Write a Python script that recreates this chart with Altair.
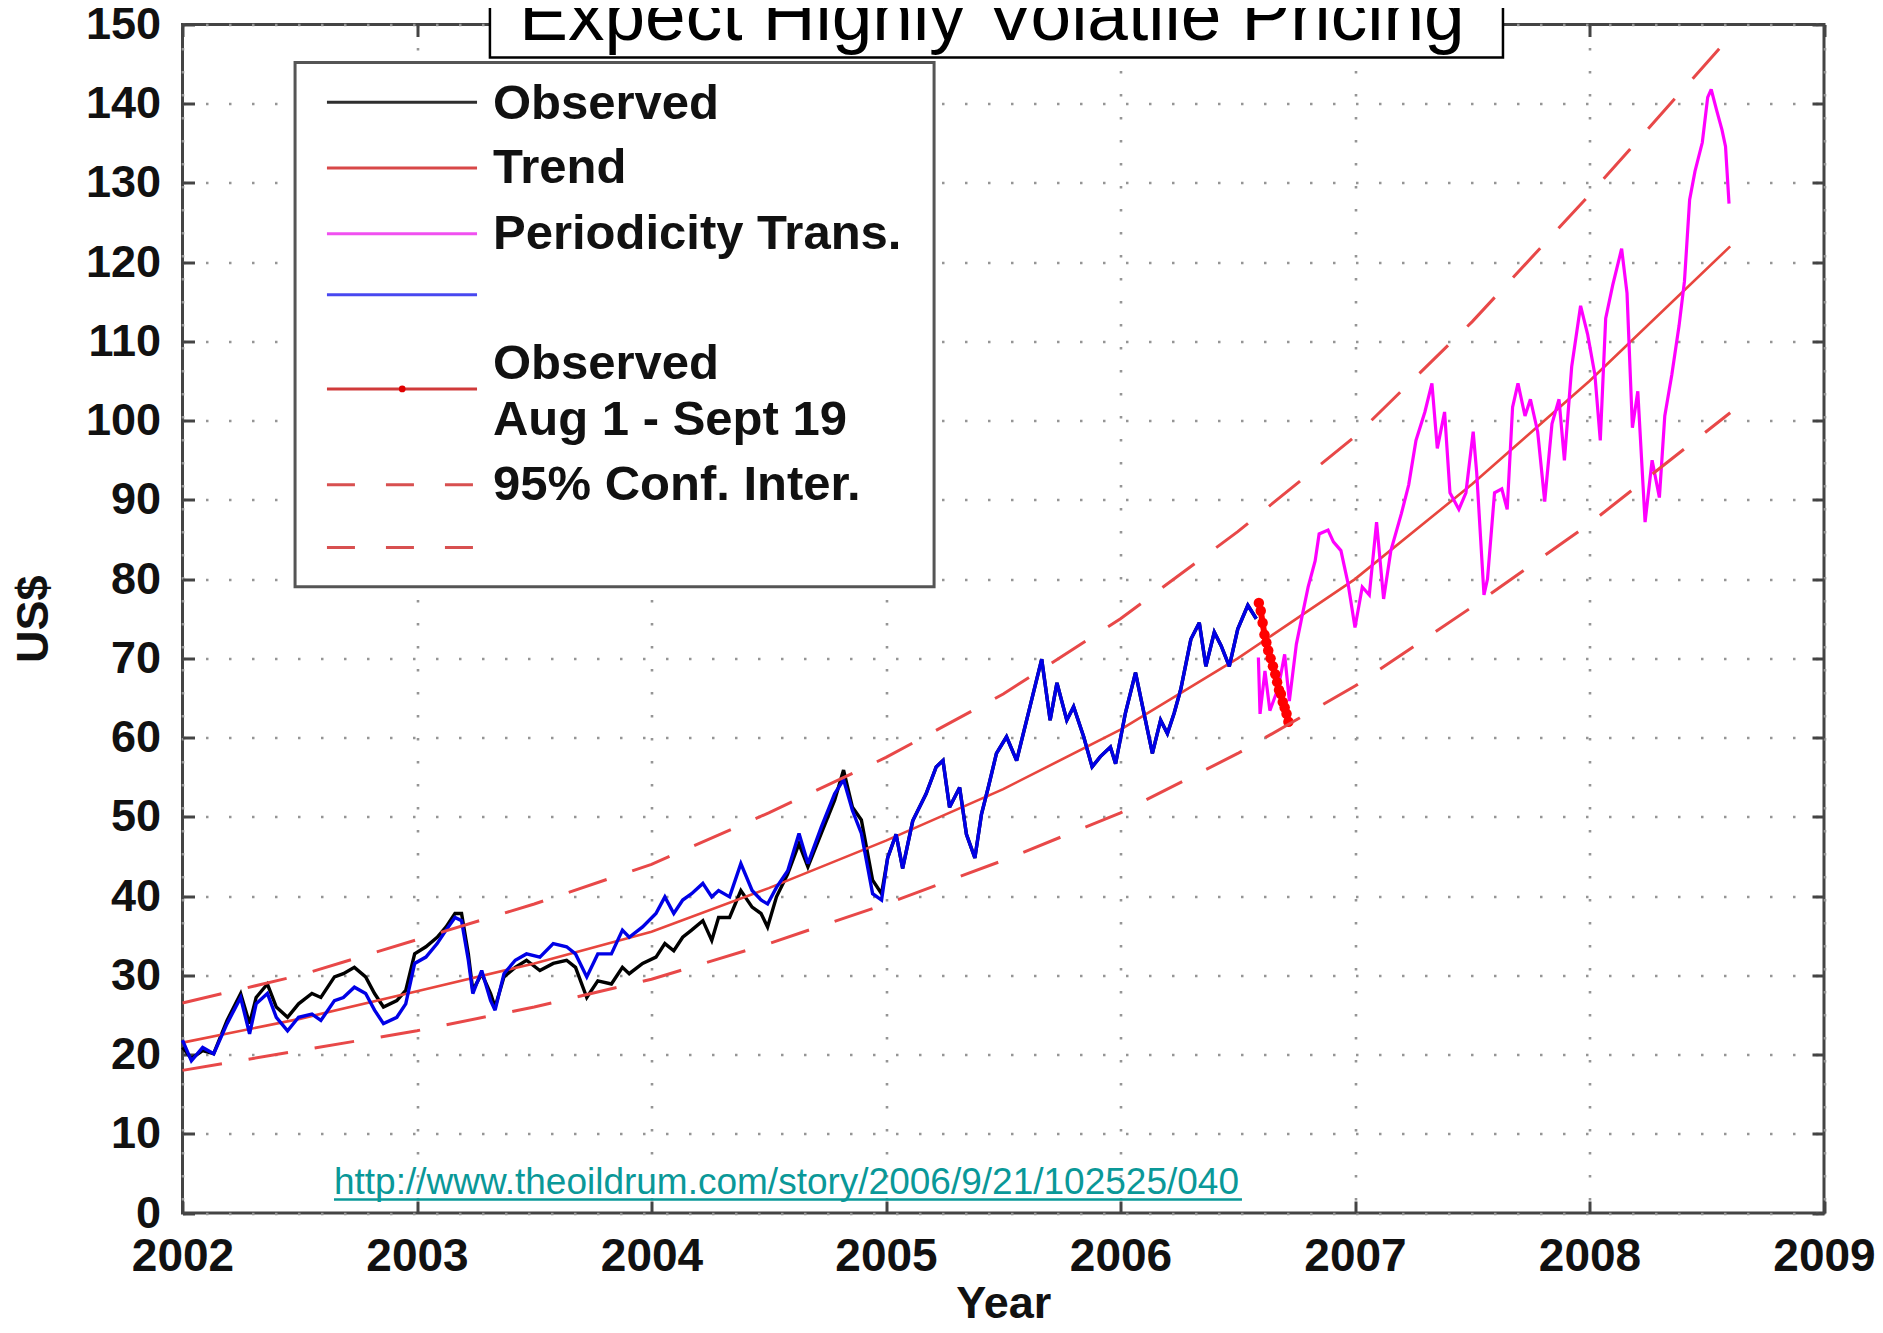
import altair as alt
import pandas as pd

FONT = "Liberation Sans"

# ---------------- data ----------------
early_years = [2002.000, 2002.038, 2002.086, 2002.133, 2002.190, 2002.248, 2002.286, 2002.314, 2002.362, 2002.400,
               2002.448, 2002.495, 2002.552, 2002.590, 2002.648, 2002.686, 2002.733, 2002.781, 2002.819, 2002.857,
               2002.914, 2002.952, 2002.990, 2003.038, 2003.086, 2003.124, 2003.162, 2003.190, 2003.219, 2003.238,
               2003.276, 2003.314, 2003.333, 2003.371, 2003.419, 2003.467, 2003.524, 2003.581, 2003.638, 2003.676,
               2003.724, 2003.771, 2003.829, 2003.876, 2003.905, 2003.962, 2004.019, 2004.057, 2004.095, 2004.133,
               2004.171, 2004.219, 2004.257, 2004.286, 2004.333, 2004.381, 2004.429, 2004.467, 2004.495, 2004.533,
               2004.581, 2004.629, 2004.667, 2004.724, 2004.781, 2004.819, 2004.857, 2004.895, 2004.943, 2004.981]
observed_early = [20.9, 19.5, 20.5, 20.1, 24.3, 27.7, 23.9, 27.2, 28.9, 26.0,
                  24.7, 26.4, 27.7, 27.2, 29.8, 30.2, 31.0, 29.8, 27.7, 26.0,
                  26.8, 28.1, 32.7, 33.6, 34.8, 36.1, 37.8, 37.8, 32.7, 28.1,
                  30.2, 27.7, 26.0, 29.8, 31.0, 31.9, 30.6, 31.5, 31.9, 31.0,
                  27.2, 29.3, 28.9, 31.0, 30.2, 31.5, 32.3, 34.0, 33.1, 34.8,
                  35.7, 36.9, 34.4, 37.3, 37.3, 40.7, 38.6, 37.8, 36.1, 39.9,
                  42.8, 46.6, 43.7, 47.9, 52.1, 55.9, 51.2, 49.6, 42.0, 40.3]
model_early = [21.8, 19.2, 20.9, 20.1, 23.9, 27.2, 22.6, 26.4, 27.7, 24.7,
               23.0, 24.7, 25.1, 24.3, 26.8, 27.2, 28.5, 27.7, 25.6, 23.9,
               24.7, 26.4, 31.5, 32.3, 34.0, 35.7, 37.3, 36.9, 31.9, 27.7,
               30.6, 26.8, 25.6, 30.2, 31.9, 32.7, 32.3, 34.0, 33.6, 32.7,
               29.8, 32.7, 32.7, 35.7, 34.8, 36.1, 37.8, 39.9, 37.8, 39.5,
               40.3, 41.6, 39.9, 40.7, 39.9, 44.1, 40.7, 39.5, 39.0, 41.1,
               43.2, 47.9, 44.1, 48.7, 52.9, 54.7, 50.8, 47.9, 40.3, 39.5]
late_years = [2005.007, 2005.043, 2005.071, 2005.114, 2005.171, 2005.214, 2005.243, 2005.271, 2005.314, 2005.343,
              2005.379, 2005.407, 2005.436, 2005.471, 2005.514, 2005.557, 2005.614, 2005.664, 2005.700, 2005.729,
              2005.771, 2005.800, 2005.843, 2005.879, 2005.914, 2005.957, 2005.979, 2006.021, 2006.064, 2006.100,
              2006.136, 2006.171, 2006.200, 2006.229, 2006.257, 2006.300, 2006.336, 2006.364, 2006.400, 2006.429,
              2006.464, 2006.500, 2006.543, 2006.579]
late_values = [44.8, 47.8, 43.5, 49.5, 52.9, 56.3, 57.1, 51.2, 53.7, 47.8,
               44.8, 50.3, 53.7, 58.0, 60.1, 57.1, 63.9, 69.9, 62.2, 66.9,
               62.2, 63.9, 60.1, 56.3, 57.6, 58.8, 56.7, 63.1, 68.2, 63.1,
               58.0, 62.2, 60.5, 63.1, 66.1, 72.4, 74.5, 69.0, 73.3, 71.6,
               69.0, 73.7, 76.7, 75.0]
aug_years = [2006.590, 2006.598, 2006.606, 2006.614, 2006.622, 2006.630, 2006.640, 2006.650,
             2006.660, 2006.668, 2006.676, 2006.684, 2006.692, 2006.700, 2006.708, 2006.716]
aug_values = [77.0, 76.0, 74.5, 73.0, 72.0, 71.0, 70.0, 69.0,
              68.0, 67.0, 66.0, 65.5, 64.5, 63.8, 63.0, 62.0]
forecast_years = [2006.588, 2006.595, 2006.616, 2006.637, 2006.673, 2006.700, 2006.720, 2006.750, 2006.770, 2006.800,
                  2006.830, 2006.847, 2006.885, 2006.908, 2006.940, 2006.970, 2007.000, 2007.031, 2007.061, 2007.092,
                  2007.122, 2007.153, 2007.198, 2007.229, 2007.260, 2007.298, 2007.328, 2007.351, 2007.382, 2007.405,
                  2007.443, 2007.473, 2007.504, 2007.519, 2007.550, 2007.565, 2007.595, 2007.626, 2007.649, 2007.672,
                  2007.695, 2007.725, 2007.748, 2007.779, 2007.809, 2007.840, 2007.870, 2007.893, 2007.924, 2007.962,
                  2007.992, 2008.023, 2008.046, 2008.069, 2008.099, 2008.137, 2008.160, 2008.183, 2008.206, 2008.237,
                  2008.267, 2008.298, 2008.321, 2008.351, 2008.382, 2008.405, 2008.427, 2008.450, 2008.481, 2008.504,
                  2008.519, 2008.542, 2008.565, 2008.580, 2008.595]
forecast_values = [70.1, 63.0, 68.4, 63.4, 66.3, 70.5, 64.6, 71.8, 74.7, 79.0,
                   82.3, 85.7, 86.2, 84.7, 83.6, 79.5, 73.9, 79.0, 78.0, 87.2,
                   77.5, 83.6, 88.3, 91.9, 97.5, 101.1, 104.7, 96.5, 101.1, 90.9,
                   88.8, 90.9, 98.6, 93.4, 78.0, 80.0, 90.9, 91.4, 88.8, 101.7,
                   104.7, 100.6, 102.7, 98.6, 89.8, 99.6, 102.7, 95.0, 106.8, 114.5,
                   110.9, 105.8, 97.5, 112.9, 117.1, 121.7, 116.1, 99.1, 103.7, 87.2,
                   95.0, 90.3, 100.6, 105.8, 112.0, 117.6, 127.9, 131.5, 135.1, 140.8,
                   141.8, 139.2, 136.7, 134.6, 127.4]
trend_years = [2002.0, 2002.5, 2003.0, 2003.5, 2004.0, 2004.5, 2005.0, 2005.5, 2006.0, 2006.5, 2007.0, 2007.5, 2008.0, 2008.6]
trend_values = [21.5, 24.5, 28.0, 31.5, 35.5, 41.0, 47.0, 53.5, 61.0, 70.0, 80.0, 92.0, 105.0, 122.0]
upper_values = [26.5, 30.0, 34.5, 39.0, 44.0, 50.5, 57.5, 65.5, 75.0, 86.0, 98.0, 112.5, 128.5, 148.5]
lower_values = [18.0, 20.5, 23.0, 26.0, 29.5, 34.0, 39.0, 44.5, 50.5, 58.0, 66.5, 76.5, 87.0, 101.0]

x_ticks = [2002, 2003, 2004, 2005, 2006, 2007, 2008, 2009]
y_ticks = [0, 10, 20, 30, 40, 50, 60, 70, 80, 90, 100, 110, 120, 130, 140, 150]

# annotation placements (in data units)
legend_box = {"year": [2002.48], "year2": [2005.205], "value": [145.2], "value2": [79.04]}
legend_solid = {"year": [2002.616] * 4, "year2": [2003.256] * 4,
                "value": [140.2, 131.9, 123.6, 115.9],
                "color": ["#2e2e2e", "#d84848", "#f050f0", "#4848f0"]}
legend_obs2 = {"year": [2002.616], "year2": [2003.256], "value": [104.0], "dot": [2002.937]}
legend_dash = {"year": [2002.616, 2002.616], "year2": [2003.256, 2003.256], "value": [91.9, 84.0]}
legend_texts = {"year": [2003.324] * 6,
                "value": [140.0, 131.9, 123.6, 107.2, 100.1, 91.9],
                "label": ["Observed", "Trend", "Periodicity Trans.", "Observed", "Aug 1 - Sept 19", "95% Conf. Inter."]}
url_text = {"year": [2002.646], "value": [2.4], "label": ["http://www.theoildrum.com/story/2006/9/21/102525/040"]}
url_line = {"year": [2002.646], "year2": [2006.518], "value": [1.7]}
title_box = {"year": [2003.311], "year2": [2007.631], "value": [145.83], "value2": [175.0]}
title_text = {"year": [2005.452], "value": [148.1], "label": ["Expect Highly Volatile Pricing"]}

# ---------------- scales & axes ----------------
W, H = 1641.5, 1188.5
xs = alt.Scale(domain=[2002, 2009], nice=False, zero=False)
ys = alt.Scale(domain=[0, 150], nice=False, zero=False)

x_axis = alt.Axis(values=x_ticks, format="d", labelFont=FONT, labelFontSize=46, labelFontWeight="bold",
                  labelColor="#111111", labelPadding=21, labelFlush=False, labelOverlap=False,
                  tickSize=12, tickWidth=3, tickColor="#444444", offset=-12, domain=False,
                  grid=True, gridDash=[2.5, 20.5], gridColor="#959595", gridWidth=2.6,
                  title="Year", titleFont=FONT, titleFontSize=45, titleFontWeight="bold",
                  titleColor="#111111", titlePadding=2, zindex=0)
y_axis = alt.Axis(values=y_ticks, format="d", labelFont=FONT, labelFontSize=45, labelFontWeight="bold",
                  labelColor="#111111", labelPadding=22, labelFlush=False, labelOverlap=False,
                  tickSize=12, tickWidth=3, tickColor="#444444", offset=-12, domain=False,
                  grid=True, gridDash=[2.5, 20.5], gridColor="#959595", gridWidth=2.6,
                  title="US$", titleFont=FONT, titleFontSize=45, titleFontWeight="bold",
                  titleColor="#111111", titlePadding=29, zindex=0)
top_axis = alt.Axis(orient="top", values=x_ticks, labels=False, title="", grid=False, domain=False,
                    tickSize=12, tickWidth=3, tickColor="#444444", offset=-12, zindex=0)
right_axis = alt.Axis(orient="right", values=y_ticks, labels=False, title="", grid=False, domain=False,
                      tickSize=12, tickWidth=3, tickColor="#444444", offset=-12, zindex=0)


def X():
    return alt.X("year:Q", scale=xs, axis=x_axis)


def Y():
    return alt.Y("value:Q", scale=ys, axis=y_axis)


def line(years, values, color, width, dash=None):
    df = pd.DataFrame({"year": years, "value": values})
    kw = dict(color=color, strokeWidth=width, strokeJoin="miter", strokeMiterLimit=3)
    if dash:
        kw["strokeDash"] = dash
    return alt.Chart(df).mark_line(**kw).encode(x=X(), y=Y())


obs = line(early_years + late_years, observed_early + late_values, "#000000", 3.4)
trend = line(trend_years, trend_values, "#e8463e", 2.6)
fcast = line(forecast_years, forecast_values, "#ff00ff", 3.2)
model = line(early_years + late_years, model_early + late_values, "#0000e6", 3.4)
aug_line = line(aug_years, aug_values, "#ff0000", 6)
aug_pts = alt.Chart(pd.DataFrame({"year": aug_years, "value": aug_values})).mark_point(
    filled=True, color="#ff0000", size=110, opacity=1).encode(x=X(), y=Y())
upper = line(trend_years, upper_values, "#e84848", 3.0, [40, 27])
lower = line(trend_years, lower_values, "#e84848", 3.0, [40, 27])

leg_box = alt.Chart(pd.DataFrame(legend_box)).mark_rect(
    fill="#ffffff", stroke="#555555", strokeWidth=3).encode(
    x=X(), x2=alt.X2("year2"), y=Y(), y2=alt.Y2("value2"))
leg_solid = alt.Chart(pd.DataFrame(legend_solid)).mark_rule(strokeWidth=3).encode(
    x=X(), x2=alt.X2("year2"), y=Y(), color=alt.Color("color:N", scale=None))
leg_obs2 = alt.Chart(pd.DataFrame(legend_obs2)).mark_rule(strokeWidth=3, color="#d03a3a").encode(
    x=X(), x2=alt.X2("year2"), y=Y())
leg_dot = alt.Chart(pd.DataFrame(legend_obs2)).mark_point(filled=True, color="#e00000", size=45, opacity=1).encode(
    x=alt.X("dot:Q", scale=xs, axis=x_axis), y=Y())
leg_dash = alt.Chart(pd.DataFrame(legend_dash)).mark_rule(strokeWidth=3, color="#d85050", strokeDash=[28, 31]).encode(
    x=X(), x2=alt.X2("year2"), y=Y())
leg_text = alt.Chart(pd.DataFrame(legend_texts)).mark_text(
    align="left", baseline="middle", font=FONT, fontSize=49, fontWeight="bold", color="#111111").encode(
    x=X(), y=Y(), text="label:N")

url = alt.Chart(pd.DataFrame(url_text)).mark_text(
    align="left", baseline="alphabetic", font=FONT, fontSize=37, color="#0a9898").encode(
    x=X(), y=Y(), text="label:N")
url_ul = alt.Chart(pd.DataFrame(url_line)).mark_rule(strokeWidth=2.5, color="#0a9898").encode(
    x=X(), x2=alt.X2("year2"), y=Y())

t_box = alt.Chart(pd.DataFrame(title_box)).mark_rect(
    fill="#ffffff", stroke="#000000", strokeWidth=2.5).encode(
    x=X(), x2=alt.X2("year2"), y=Y(), y2=alt.Y2("value2"))
t_text = alt.Chart(pd.DataFrame(title_text)).mark_text(
    align="center", baseline="alphabetic", font=FONT, fontSize=73, color="#000000").encode(
    x=X(), y=Y(), text="label:N")

main = alt.layer(obs, trend, fcast, model, aug_line, aug_pts, upper, lower,
                 leg_box, leg_solid, leg_obs2, leg_dot, leg_dash, leg_text,
                 url, url_ul, t_box, t_text)

frame = alt.Chart(pd.DataFrame({"year": trend_years, "value": trend_values})).mark_line(opacity=0).encode(
    x=alt.X("year:Q", scale=xs, axis=top_axis),
    y=alt.Y("value:Q", scale=ys, axis=right_axis))

chart = alt.layer(main, frame).resolve_scale(x="independent", y="independent").properties(
    width=W, height=H,
    padding={"left": 174.5, "top": 16.5, "right": 51, "bottom": 112},
    autosize=alt.AutoSizeParams(type="none"),
    background="#ffffff",
).configure_view(stroke="#444444", strokeWidth=3)

chart.save("out.html", embed_options={"renderer": "svg", "actions": False})
